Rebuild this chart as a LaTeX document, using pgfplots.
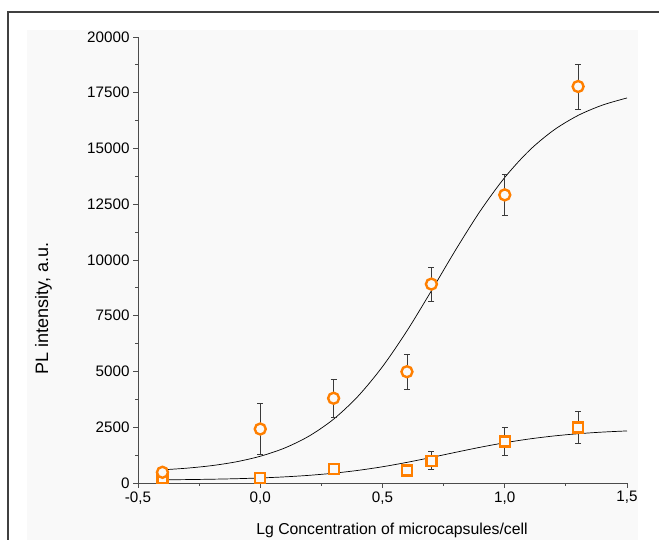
\documentclass[border=0pt]{standalone}
\usepackage{pgfplots}
\pgfplotsset{compat=1.18}
\usepackage{fontspec}
\setmainfont{Liberation Sans}
\definecolor{orng}{HTML}{FF7F00}
\definecolor{panel}{HTML}{F9F9F9}
\definecolor{ebar}{HTML}{3A3A3A}
\begin{document}
\begin{tikzpicture}[x=1pt,y=1pt]
\path[use as bounding box] (0,0) rectangle (659,540);
\fill[panel] (27,0) rectangle (638,510);
\draw[color=black!75, line width=1.2pt] (8,0) -- (8,528) -- (659,528);
\begin{axis}[
  at={(138pt,57pt)}, anchor=south west,
  scale only axis, width=489pt, height=446pt,
  xmin=-0.5, xmax=1.5, ymin=0, ymax=20000,
  axis x line*=bottom, axis y line*=left,
  axis line style={black!70, line width=0.8pt},
  tick style={black!70, line width=0.8pt},
  tick align=outside,
  major tick length=5pt, minor tick length=3pt,
  xtick={-0.5,0,0.5,1,1.5},
  xticklabels={{-0,5},{0,0},{0,5},{1,0},{1,5}},
  minor x tick num=1,
  scaled y ticks=false,
  ytick={0,2500,5000,7500,10000,12500,15000,17500,20000},
  yticklabels={0,2500,5000,7500,10000,12500,15000,17500,20000},
  minor y tick num=1,
  ticklabel style={font=\fontsize{15.2}{17}\selectfont},
  clip=false,
]
% fit curves
\addplot[black, line width=0.7pt, smooth, no markers] coordinates {
(-0.4,591) (-0.3,665) (-0.2,777) (-0.1,946) (0,1199) (0.1,1569) (0.2,2106)
(0.3,2863) (0.4,3892) (0.5,5218) (0.6,6821) (0.7,8619) (0.8,10467) (0.9,12201)
(1.0,13700) (1.1,14907) (1.2,15820) (1.3,16483) (1.4,16947) (1.5,17266)};
\addplot[black, line width=0.7pt, smooth, no markers] coordinates {
(-0.4,142) (-0.3,153) (-0.2,169) (-0.1,192) (0,226) (0.1,275) (0.2,344)
(0.3,439) (0.4,566) (0.5,728) (0.6,925) (0.7,1146) (0.8,1378) (0.9,1603)
(1.0,1805) (1.1,1974) (1.2,2108) (1.3,2209) (1.4,2283) (1.5,2335)};
% squares
\addplot[only marks, mark=square*, mark size=5pt,
  mark options={draw=orng, fill=panel, line width=2.2pt},
  error bars/.cd, y dir=both, y explicit,
  error bar style={ebar, line width=0.8pt},
  error mark options={rotate=90, mark size=3pt, ebar, line width=0.8pt}]
  coordinates {
(-0.4,220) +- (0,120)
(0,240) +- (0,150)
(0.3,620) +- (0,150)
(0.6,560) +- (0,120)
(0.7,1000) +- (0,400)
(1.0,1860) +- (0,640)
(1.3,2490) +- (0,700)};
% circles
\addplot[only marks, mark=*, mark size=5.5pt,
  mark options={draw=orng, fill=panel, line width=2.4pt},
  error bars/.cd, y dir=both, y explicit,
  error bar style={ebar, line width=0.8pt},
  error mark options={rotate=90, mark size=3pt, ebar, line width=0.8pt}]
  coordinates {
(-0.4,480) +- (0,150)
(0,2420) +- (0,1130)
(0.3,3800) +- (0,850)
(0.6,4990) +- (0,780)
(0.7,8920) +- (0,760)
(1.0,12920) +- (0,920)
(1.3,17780) +- (0,1010)};
\end{axis}
\node[anchor=base, font=\fontsize{15.8}{18}\selectfont] at (392,5) {Lg Concentration of microcapsules/cell};
\node[rotate=90, anchor=base, font=\fontsize{18}{20}\selectfont] at (48,231.5) {PL intensity, a.u.};
\end{tikzpicture}
\end{document}
